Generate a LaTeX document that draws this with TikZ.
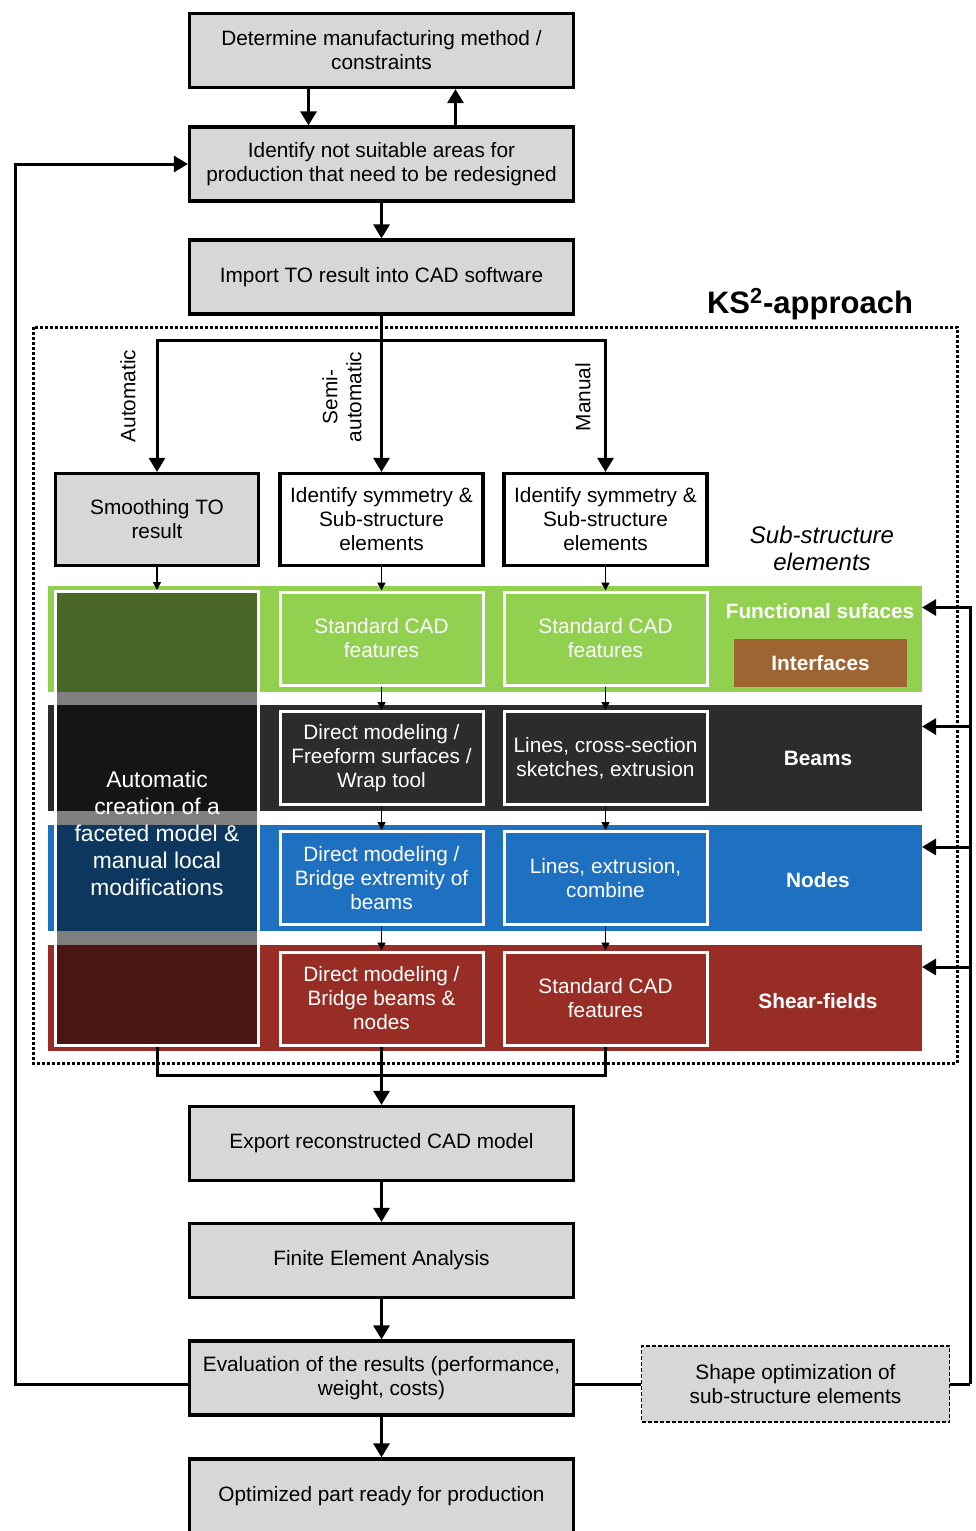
\documentclass[tikz,border=0pt]{standalone}
\usepackage{fontspec}
\setmainfont{Liberation Sans}
\usetikzlibrary{arrows.meta}
\definecolor{boxgray}{RGB}{215,215,215}
\definecolor{kgreen}{RGB}{146,208,80}
\definecolor{kdark}{RGB}{44,44,46}
\definecolor{kblue}{RGB}{30,112,193}
\definecolor{kred}{RGB}{151,45,36}
\definecolor{kbrown}{RGB}{157,101,50}

\begin{document}
\begin{tikzpicture}[x=0.5pt,y=-0.5pt,
  font=\fontsize{10.4}{12}\selectfont,
  mainbox/.style={draw,line width=1.6pt,fill=boxgray,minimum width=192pt,minimum height=37pt,align=center,inner sep=0pt},
  colbox/.style={draw,line width=1.6pt,minimum width=101.5pt,minimum height=46pt,align=center,inner sep=0pt},
  subbox/.style={draw=white,line width=1.5pt,minimum width=101.5pt,minimum height=46.5pt,align=center,text=white,inner sep=0pt},
  band/.style={minimum width=437pt,minimum height=53pt,inner sep=0pt,outer sep=0pt},
  bigarrow/.style={draw,line width=1.5pt,-{Triangle[length=7pt,width=8pt]}},
  smallarrow/.style={draw,line width=0.7pt,-{Triangle[length=4pt,width=4pt]}},
  wire/.style={draw,line width=1.5pt}]
\useasboundingbox (0,0) rectangle (975,1531);

\node [mainbox] at (381.5,50.5) (determine) {Determine manufacturing method /\\constraints};
\node [mainbox] at (381.5,164) (identify) {Identify not suitable areas for\\production that need to be redesigned};
\node [mainbox] at (381.5,277) (import) {Import TO result into CAD software};

\node [font=\fontsize{15.5}{18}\selectfont\bfseries] at (810,304) (title) {KS\textsuperscript{2}-approach};
\draw [line width=1.5pt,dash pattern=on 1.5pt off 1pt] (33,327) rectangle (957,1063);

% colour bands of the sub-structure elements
\node [band,fill=kgreen] at (485,638.5) (bandgreen) {};
\node [band,fill=kdark] at (485,757.5) (banddark) {};
\node [band,fill=kblue] at (485,878) (bandblue) {};
\node [band,fill=kred] at (485,998) (bandred) {};

\node [draw=white,line width=1.5pt,fill=black,fill opacity=0.5,minimum width=101.5pt,minimum height=227pt,inner sep=0pt] at (157,818.5) (autocol) {};
\node [text=white,align=center,font=\fontsize{11.4}{13.5}\selectfont] at (157,833) (autotext) {Automatic\\creation of a\\faceted model \&\\manual local\\modifications};

\node [colbox,fill=boxgray] at (157,519.5) (smooth) {Smoothing TO\\result};
\node [colbox,fill=white] at (381.5,519.5) (identsemi) {Identify symmetry \&\\Sub-structure\\elements};
\node [colbox,fill=white] at (605.5,519.5) (identmanu) {Identify symmetry \&\\Sub-structure\\elements};

\node [rotate=90] at (128,396) (lauto) {Automatic};
\node [rotate=90,align=center] at (342,397) (lsemi) {Semi-\\automatic};
\node [rotate=90] at (583,397) (lmanu) {Manual};

\node [align=center,font=\fontsize{12}{13.5}\itshape] at (822,548) (subtitle) {Sub-structure\\elements};

  \begin{scope}[every node/.style={subbox}]
    \node [fill=kgreen] at (381.5,638.5) (semi1) {Standard CAD\\features};
    \node [fill=kgreen] at (605.5,638.5) (manu1) {Standard CAD\\features};
    \node [fill=kdark] at (381.5,758) (semi2) {Direct modeling /\\Freeform surfaces /\\Wrap tool};
    \node [fill=kdark] at (605.5,758) (manu2) {Lines, cross-section\\sketches, extrusion};
    \node [fill=kblue] at (381.5,878) (semi3) {Direct modeling /\\Bridge extremity of\\beams};
    \node [fill=kblue] at (605.5,878) (manu3) {Lines, extrusion,\\combine};
    \node [fill=kred] at (381.5,998.5) (semi4) {Direct modeling /\\Bridge beams \&\\nodes};
    \node [fill=kred] at (605.5,998.5) (manu4) {Standard CAD\\features};
  \end{scope}

  \begin{scope}[every node/.style={text=white,font=\fontsize{10.4}{12}\bfseries}]
    \node at (820,611) (lfunc) {Functional sufaces};
    \node [fill=kbrown,minimum width=86.5pt,minimum height=24pt] at (820.5,663) (linter) {Interfaces};
    \node at (818,758) (lbeams) {Beams};
    \node at (818,880) (lnodes) {Nodes};
    \node at (818,1001) (lshear) {Shear-fields};
  \end{scope}

\node [mainbox] at (381.5,1143.5) (export) {Export reconstructed CAD model};
\node [mainbox] at (381.5,1260.5) (fea) {Finite Element Analysis};
\node [mainbox] at (381.5,1378) (evaluate) {Evaluation of the results (performance,\\weight, costs)};
\node [mainbox] at (381.5,1496) (ready) {Optimized part ready for production};
\node [draw,line width=0.6pt,dash pattern=on 2pt off 1pt,fill=boxgray,minimum width=154pt,minimum height=38pt,align=center,inner sep=0pt] at (795.5,1384) (shapeopt) {Shape optimization of\\sub-structure elements};

\coordinate (split) at (381.5,340);
\coordinate (merge) at (381.5,1075);
\coordinate (leftrail) at (15,1384);
\coordinate (rightrail) at (970,1384);

  \begin{scope}[every path/.style={bigarrow}]
    \path ([xshift=-36.5pt]determine.south) -- ([xshift=-36.5pt]identify.north);
    \path ([xshift=37pt]identify.north) -- ([xshift=37pt]determine.south);
    \path (identify.south) -- (import.north);
    \path (import.south) -- (split) -| (smooth.north);
    \path (split) -- (identsemi.north);
    \path (split) -| (identmanu.north);
    \path (semi4.south) -- (export.north);
    \path (export.south) -- (fea.north);
    \path (fea.south) -- (evaluate.north);
    \path (evaluate.south) -- (ready.north);
    \path (evaluate.west |- leftrail) -- (leftrail) |- (identify.west);
  \end{scope}

\draw [wire] (autocol.south) |- (merge) -| (manu4.south);
\draw [wire] (evaluate.east |- shapeopt.west) -- (shapeopt.west);
\draw [wire] (shapeopt.east) -- (rightrail);
\foreach \b in {green,dark,blue,red}
  \draw [bigarrow] (rightrail) |- ([yshift=15.5pt]band\b.east);

\draw [smallarrow] (smooth.south) -- (autocol.north);
\foreach \c in {semi,manu} {
  \draw [smallarrow] (ident\c.south) -- (\c1.north);
  \foreach \r/\s in {1/2,2/3,3/4}
    \draw [smallarrow] (\c\r.south) -- (\c\s.north);
}
\end{tikzpicture}
\end{document}
